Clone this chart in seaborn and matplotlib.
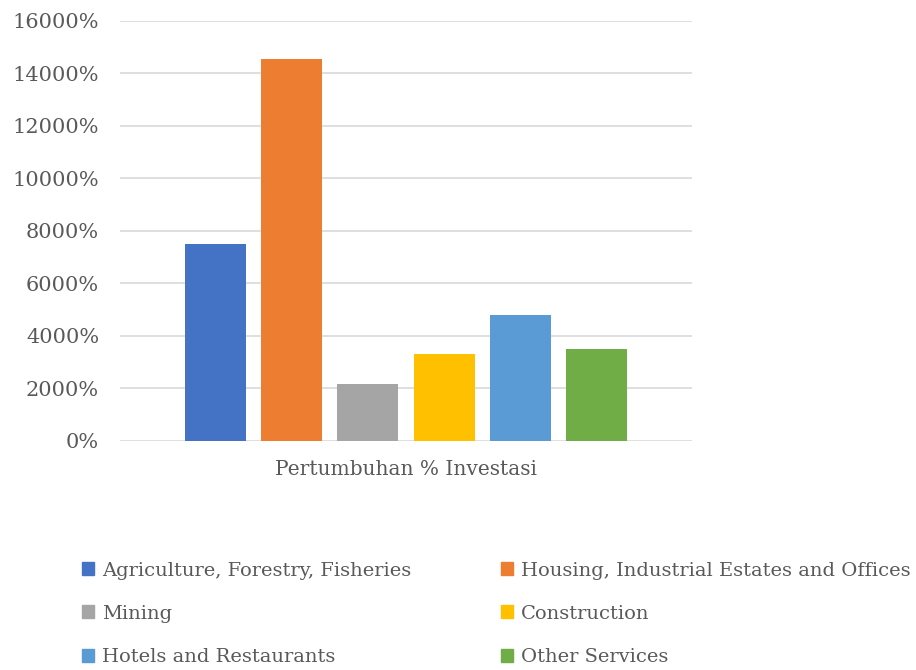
import matplotlib.pyplot as plt
import seaborn as sns
import pandas as pd
from matplotlib.ticker import FuncFormatter

# data (in %)
sectors = ['Agriculture, Forestry, Fisheries', 'Housing, Industrial Estates and Offices',
           'Mining', 'Construction', 'Hotels and Restaurants', 'Other Services']
values = [7500, 14540, 2160, 3300, 4790, 3490]
group = ['Pertumbuhan % Investasi'] * len(sectors)
colors = ['#4472C4', '#ED7D31', '#A5A5A5', '#FFC000', '#5B9BD5', '#70AD47']

df = pd.DataFrame({'group': group, 'sector': sectors, 'value': values})

sns.set_style('white')
plt.rcParams['font.family'] = ['DejaVu Serif']
txt = '#595959'

fig = plt.figure(figsize=(9.16, 6.70), dpi=100)
ax = fig.add_axes([120/916, 1-440.7/670, 572/916, 420/670])

sns.barplot(data=df, x='group', y='value', hue='sector', hue_order=sectors,
            palette=colors, width=0.8, gap=0.2, saturation=1, linewidth=0,
            ax=ax, legend=False)

ax.set_ylim(0, 16000)
ax.set_yticks(range(0, 16001, 2000))
ax.yaxis.set_major_formatter(FuncFormatter(lambda v, p: f'{int(v)}%'))
ax.grid(axis='y', color='#D9D9D9', linewidth=1.2)
ax.set_axisbelow(True)
for s in ax.spines.values():
    s.set_visible(False)
ax.tick_params(length=0, labelsize=15, labelcolor=txt)
ax.tick_params(axis='y', pad=15)
ax.tick_params(axis='x', pad=14, labelsize=14.5)
ax.set_xlabel('')
ax.set_ylabel('')

# legend filled row by row like the original
order = [0, 2, 4, 1, 3, 5]
handles = [plt.Rectangle((0, 0), 1, 1, color=colors[i]) for i in order]
labels = [sectors[i] for i in order]
fig.legend(handles, labels, loc='upper left', bbox_to_anchor=(64/916, 1-544/670),
           ncol=2, frameon=False, fontsize=14, labelcolor=txt,
           handlelength=0.65, handleheight=0.65, handletextpad=0.4,
           columnspacing=4.6, labelspacing=1.3)

fig.savefig('out.png', dpi=100)
